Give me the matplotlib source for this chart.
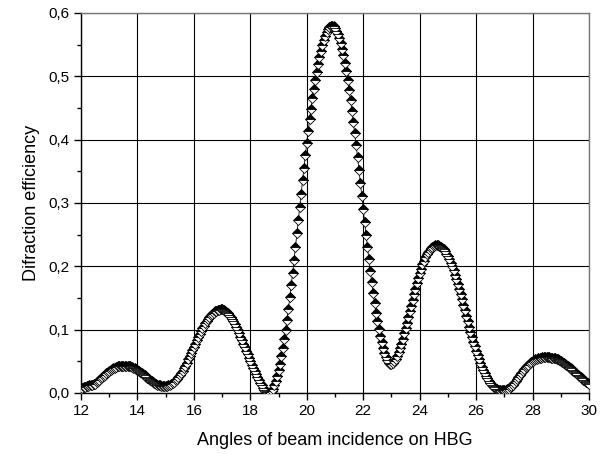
import numpy as np
import matplotlib
matplotlib.use("Agg")
import matplotlib.pyplot as plt
from matplotlib.ticker import MultipleLocator, FuncFormatter

plt.rcParams['font.family'] = ['Liberation Sans', 'DejaVu Sans']

# Angle grid (degrees), 0.05 step from 12 to 30
angle_start = 12.0
angle_end = 30.0
n_points = 361
angles = np.linspace(angle_start, angle_end, n_points)

# Diffraction efficiency, one row per degree (20 samples each)
efficiency = [
    0.006, 0.008, 0.009, 0.010, 0.011, 0.011, 0.012, 0.012, 0.013, 0.014, 0.015, 0.017, 0.019, 0.021, 0.023, 0.025, 0.027, 0.029, 0.031, 0.033,  # 12
    0.035, 0.036, 0.038, 0.039, 0.040, 0.041, 0.042, 0.042, 0.043, 0.043, 0.043, 0.043, 0.043, 0.043, 0.042, 0.042, 0.041, 0.040, 0.039, 0.038,  # 13
    0.036, 0.035, 0.033, 0.031, 0.030, 0.028, 0.026, 0.024, 0.022, 0.020, 0.019, 0.017, 0.016, 0.014, 0.013, 0.012, 0.012, 0.011, 0.011, 0.011,  # 14
    0.011, 0.011, 0.012, 0.013, 0.014, 0.016, 0.018, 0.020, 0.022, 0.025, 0.028, 0.031, 0.035, 0.039, 0.043, 0.048, 0.053, 0.058, 0.063, 0.068,  # 15
    0.073, 0.078, 0.083, 0.088, 0.093, 0.098, 0.102, 0.106, 0.110, 0.114, 0.117, 0.120, 0.123, 0.125, 0.127, 0.129, 0.130, 0.131, 0.131, 0.132,  # 16
    0.132, 0.131, 0.130, 0.128, 0.126, 0.123, 0.120, 0.117, 0.113, 0.109, 0.104, 0.099, 0.094, 0.089, 0.084, 0.078, 0.073, 0.067, 0.062, 0.056,  # 17
    0.051, 0.045, 0.040, 0.035, 0.030, 0.025, 0.020, 0.016, 0.012, 0.008, 0.005, 0.003, 0.001, 0.000, 0.001, 0.003, 0.007, 0.012, 0.019, 0.027,  # 18
    0.036, 0.046, 0.058, 0.071, 0.085, 0.100, 0.116, 0.133, 0.151, 0.170, 0.190, 0.210, 0.231, 0.252, 0.273, 0.294, 0.315, 0.336, 0.356, 0.376,  # 19
    0.395, 0.414, 0.432, 0.449, 0.465, 0.480, 0.494, 0.507, 0.519, 0.530, 0.540, 0.549, 0.557, 0.564, 0.570, 0.575, 0.578, 0.580, 0.580, 0.579,  # 20
    0.576, 0.572, 0.567, 0.560, 0.552, 0.543, 0.533, 0.521, 0.508, 0.494, 0.479, 0.463, 0.446, 0.428, 0.410, 0.391, 0.372, 0.352, 0.332, 0.311,  # 21
    0.290, 0.270, 0.250, 0.230, 0.211, 0.193, 0.175, 0.158, 0.142, 0.127, 0.113, 0.101, 0.090, 0.080, 0.071, 0.063, 0.057, 0.052, 0.048, 0.046,  # 22
    0.046, 0.047, 0.050, 0.054, 0.059, 0.065, 0.071, 0.078, 0.086, 0.094, 0.102, 0.111, 0.120, 0.129, 0.138, 0.147, 0.156, 0.165, 0.173, 0.181,  # 23
    0.189, 0.196, 0.203, 0.209, 0.214, 0.219, 0.223, 0.226, 0.229, 0.231, 0.232, 0.233, 0.233, 0.233, 0.232, 0.231, 0.229, 0.227, 0.224, 0.220,  # 24
    0.216, 0.211, 0.206, 0.200, 0.194, 0.187, 0.180, 0.172, 0.164, 0.156, 0.148, 0.139, 0.131, 0.122, 0.114, 0.105, 0.097, 0.089, 0.081, 0.074,  # 25
    0.067, 0.060, 0.053, 0.047, 0.041, 0.036, 0.031, 0.027, 0.023, 0.019, 0.016, 0.013, 0.011, 0.009, 0.007, 0.006, 0.005, 0.004, 0.004, 0.004,  # 26
    0.004, 0.005, 0.006, 0.007, 0.009, 0.011, 0.013, 0.016, 0.019, 0.022, 0.025, 0.028, 0.032, 0.035, 0.038, 0.041, 0.043, 0.045, 0.047, 0.049,  # 27
    0.051, 0.052, 0.053, 0.054, 0.055, 0.056, 0.056, 0.057, 0.057, 0.057, 0.057, 0.057, 0.057, 0.056, 0.056, 0.055, 0.055, 0.054, 0.053, 0.052,  # 28
    0.051, 0.049, 0.048, 0.046, 0.045, 0.043, 0.041, 0.039, 0.037, 0.035, 0.033, 0.031, 0.029, 0.027, 0.025, 0.023, 0.021, 0.019, 0.018, 0.016,  # 29
    0.015,  # 30
]

x_ticks = [12, 14, 16, 18, 20, 22, 24, 26, 28, 30]
y_ticks = [0.0, 0.1, 0.2, 0.3, 0.4, 0.5, 0.6]
x_label = "Angles of beam incidence on HBG"
y_label = "Difraction efficiency"

fig = plt.figure(figsize=(6.04, 4.54), dpi=100)
ax = fig.add_axes([81 / 604, 1 - 393 / 454, (589 - 81) / 604, (393 - 13) / 454])

ax.plot(angles, efficiency, color='black', linewidth=0.6,
        marker='D', markersize=5.2, fillstyle='top',
        markerfacecolor='black', markerfacecoloralt='white',
        markeredgecolor='black', markeredgewidth=0.6, zorder=3)

ax.set_xlim(12, 30)
ax.set_ylim(0, 0.6)
ax.set_xticks(x_ticks)
ax.set_yticks(y_ticks)
ax.xaxis.set_minor_locator(MultipleLocator(1))
ax.yaxis.set_minor_locator(MultipleLocator(0.05))
ax.yaxis.set_major_formatter(FuncFormatter(lambda v, p: f"{v:.1f}".replace('.', ',')))

ax.grid(True, which='major', color='black', linewidth=0.8)
ax.set_axisbelow(True)
ax.tick_params(which='major', direction='out', length=5, width=1.0, labelsize=11, pad=3)
ax.tick_params(which='minor', direction='out', length=3, width=1.0)
for s in ax.spines.values():
    s.set_linewidth(1.0)
ax.spines['top'].set_color('#777777')
ax.spines['right'].set_color('#777777')

ax.set_xlabel(x_label, fontsize=13, labelpad=10)
ax.set_ylabel(y_label, fontsize=13, labelpad=6)

fig.savefig("out.png", dpi=100)
